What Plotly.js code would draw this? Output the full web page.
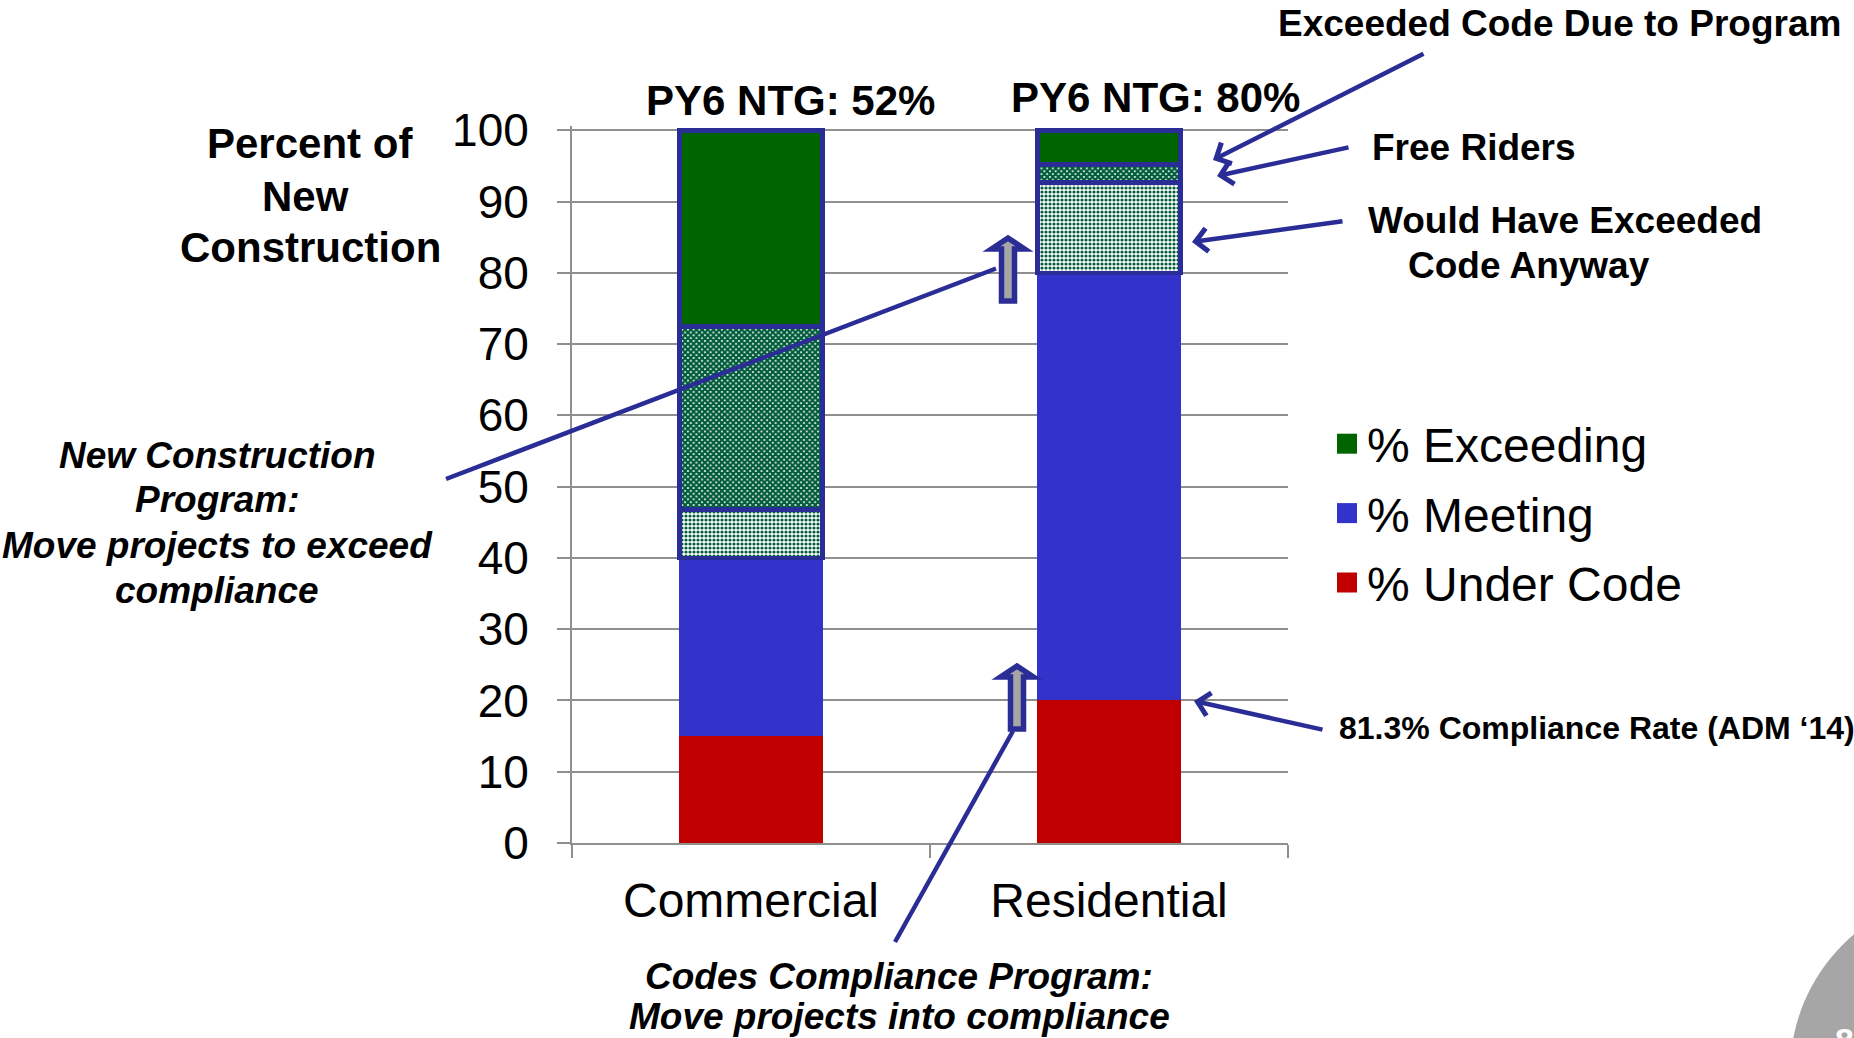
<!DOCTYPE html>
<html>
<head>
<meta charset="utf-8">
<script src="https://cdn.plot.ly/plotly-3.0.1.min.js"></script>
<style>
  html, body { margin: 0; padding: 0; background: #ffffff; }
  #chart { width: 1854px; height: 1038px; }
</style>
</head>
<body>
<div id="chart"></div>
<script>
// ---------------- data ----------------
const categories = ['Commercial', 'Residential'];
const underCode = [15, 20];                 // % Under Code
const meeting = [25, 60];                   // % Meeting
const wouldHaveExceeded = [6.8, 12.7];      // Would Have Exceeded Code Anyway
const freeRiders = [25.7, 2.5];             // Free Riders
const exceededDueToProgram = [27.5, 4.8];   // Exceeded Code Due to Program (% Exceeding)
const ntgLabels = ['PY6 NTG: 52%', 'PY6 NTG: 80%'];
const yTickVals = [0, 10, 20, 30, 40, 50, 60, 70, 80, 90, 100];
const legendNames = ['% Under Code', '% Meeting', '% Exceeding'];

// ---------------- styles ----------------
const W = 1854, H = 1038;
const M = { l: 572, r: 566, t: 126, b: 195, autoexpand: false };
const PW = W - M.l - M.r, PH = H - M.t - M.b;
const px2x = p => (p - M.l) / PW;
const py2y = p => (H - M.b - p) / PH;

const FONT = 'Liberation Sans, Arial, Helvetica, sans-serif';
const NAVY = '#2B2D96';
const GRID = '#8F8F8F';
const RED = '#C00000';
const BLUE = '#3333CC';
const GREEN = '#006400';
const HATCH = '#005C3A';

const border = { color: NAVY, width: 4.5 };

const traces = [
  { type: 'bar', name: legendNames[0], legendgroup: 'under', legendrank: 3, x: categories, y: underCode,
    marker: { color: RED, line: { width: 0 } } },
  { type: 'bar', name: legendNames[1], legendgroup: 'meet', legendrank: 2, x: categories, y: meeting,
    marker: { color: BLUE, line: { width: 0 } } },
  { type: 'bar', name: 'Would Have Exceeded Code Anyway', legendgroup: 'exc', legendrank: 1, showlegend: false,
    x: categories, y: wouldHaveExceeded,
    marker: { color: '#ffffff', line: border,
      pattern: { shape: '.', fgcolor: HATCH, bgcolor: '#ffffff', size: 4, solidity: 0.5 } } },
  { type: 'bar', name: 'Free Riders', legendgroup: 'exc', legendrank: 1, showlegend: false,
    x: categories, y: freeRiders,
    marker: { color: '#ffffff', line: border,
      pattern: { shape: 'x', fgcolor: HATCH, bgcolor: '#ffffff', size: 4, solidity: 0.8 } } },
  { type: 'bar', name: legendNames[2], legendgroup: 'exc', legendrank: 1, x: categories, y: exceededDueToProgram,
    marker: { color: GREEN, line: border } }
];

function blockArrow(cx, tip) {
  const pts = [
    [cx, tip + 4], [cx + 16.5, tip + 15], [cx + 6.5, tip + 15], [cx + 6.5, tip + 67],
    [cx - 6.5, tip + 67], [cx - 6.5, tip + 15], [cx - 16.5, tip + 15]
  ];
  const d = 'M' + pts.map(p => px2x(p[0]).toFixed(5) + ',' + py2y(p[1]).toFixed(5)).join(' L') + ' Z';
  return { type: 'path', xref: 'paper', yref: 'paper', path: d,
           fillcolor: '#A6A6A6', line: { color: NAVY, width: 5.5 }, layer: 'above' };
}

const shapes = [
  { type: 'line', xref: 'paper', yref: 'paper',
    x0: px2x(446), y0: py2y(479), x1: px2x(996), y1: py2y(268.5),
    line: { color: NAVY, width: 4.5 }, layer: 'above' },
  { type: 'line', xref: 'paper', yref: 'paper',
    x0: px2x(895), y0: py2y(942), x1: px2x(1013), y1: py2y(731),
    line: { color: NAVY, width: 4.5 }, layer: 'above' },
  blockArrow(1008, 234),
  blockArrow(1017, 662),
  { type: 'circle', xref: 'paper', yref: 'paper',
    x0: px2x(1970 - 180), x1: px2x(1970 + 180), y0: py2y(1072 + 180), y1: py2y(1072 - 180),
    fillcolor: '#A6A6A6', line: { width: 0 }, layer: 'above' }
];

const bold = (size) => ({ family: FONT, size: size, color: '#000000', weight: 'bold' });
const boldItalic = (size) => ({ family: FONT, size: size, color: '#000000', weight: 'bold', style: 'italic' });

function arrow(hx, hy, tx, ty) {
  return { xref: 'paper', yref: 'paper', x: px2x(hx), y: py2y(hy),
    ax: tx - hx, ay: ty - hy, text: '', showarrow: true,
    arrowhead: 4, arrowsize: 1, arrowwidth: 4.5, arrowcolor: NAVY, standoff: 0 };
}
function label(text, cx, cy, font, xanchor) {
  return { xref: 'paper', yref: 'paper', x: px2x(cx), y: py2y(cy), text: text,
    showarrow: false, xanchor: xanchor || 'center', yanchor: 'middle', align: 'center', font: font };
}

const annotations = [
  label('Percent of', 310, 144, bold(42)),
  label('New', 305, 196, bold(42)),
  label('Construction', 310, 247, bold(42)),
  { xref: 'x', yref: 'paper', x: categories[0], xshift: 39, y: py2y(100), text: ntgLabels[0],
    showarrow: false, xanchor: 'center', yanchor: 'middle', font: bold(42) },
  { xref: 'x', yref: 'paper', x: categories[1], xshift: 46, y: py2y(98), text: ntgLabels[1],
    showarrow: false, xanchor: 'center', yanchor: 'middle', font: bold(42) },
  label('Exceeded Code Due to Program', 1559, 24, bold(37)),
  label('Free Riders', 1474, 147, bold(37)),
  label('Would Have Exceeded', 1565, 220, bold(37)),
  label('Code Anyway', 1529, 265, bold(37)),
  label('81.3% Compliance Rate (ADM \u201814)', 1337, 728, bold(32), 'left'),
  label('New Construction', 217, 455, boldItalic(37)),
  label('Program:', 217, 500, boldItalic(37)),
  label('Move projects to exceed', 217, 545, boldItalic(37)),
  label('compliance', 217, 590, boldItalic(37)),
  label('Codes Compliance Program:', 899, 976, boldItalic(37)),
  label('Move projects into compliance', 899, 1016, boldItalic(37)),
  label('8', 1844, 1040, { family: FONT, size: 34, color: '#ffffff', weight: 'bold' }),
  arrow(1213, 160, 1425, 53),
  arrow(1217, 176, 1350, 147),
  arrow(1192, 242, 1344, 221),
  arrow(1194, 701, 1324, 730)
];

const layout = {
  width: W, height: H,
  margin: M,
  paper_bgcolor: '#ffffff', plot_bgcolor: '#ffffff',
  barmode: 'stack', bargap: 0.6,
  showlegend: true,
  legend: {
    x: px2x(1327), y: py2y(406), xanchor: 'left', yanchor: 'top',
    traceorder: 'grouped', tracegroupgap: 4,
    font: { family: FONT, size: 48, color: '#000000' },
    bgcolor: 'rgba(0,0,0,0)', borderwidth: 0
  },
  xaxis: {
    type: 'category', range: [-0.5, 1.5], tickson: 'boundaries', ticks: 'outside', ticklen: 13,
    tickcolor: GRID, tickwidth: 2, showline: true, linecolor: GRID, linewidth: 2,
    showgrid: false, tickfont: { family: FONT, size: 48, color: '#000000' },
    ticklabelstandoff: 14
  },
  yaxis: {
    range: [0, 100.6], tickvals: yTickVals, ticks: 'outside', ticklen: 13,
    tickcolor: GRID, tickwidth: 2, showline: true, linecolor: GRID, linewidth: 2,
    showgrid: true, gridcolor: GRID, gridwidth: 2, zeroline: false,
    tickfont: { family: FONT, size: 46, color: '#000000' },
    ticklabelstandoff: 19
  },
  shapes: shapes,
  annotations: annotations,
  hovermode: false
};

function enlargeSwatches() {
  // larger legend keys, like the slide's legend squares
  document.querySelectorAll('#chart g.legendpoints path').forEach(function (p) {
    p.setAttribute('d', 'M10,10H-10V-10H10Z');
    p.style.strokeWidth = '0px';
  });
}

Plotly.newPlot('chart', traces, layout, { displayModeBar: false, staticPlot: true }).then(function (gd) {
  enlargeSwatches();
  gd.on('plotly_afterplot', enlargeSwatches);
  setTimeout(enlargeSwatches, 50);
  setTimeout(enlargeSwatches, 400);
});
</script>
</body>
</html>
